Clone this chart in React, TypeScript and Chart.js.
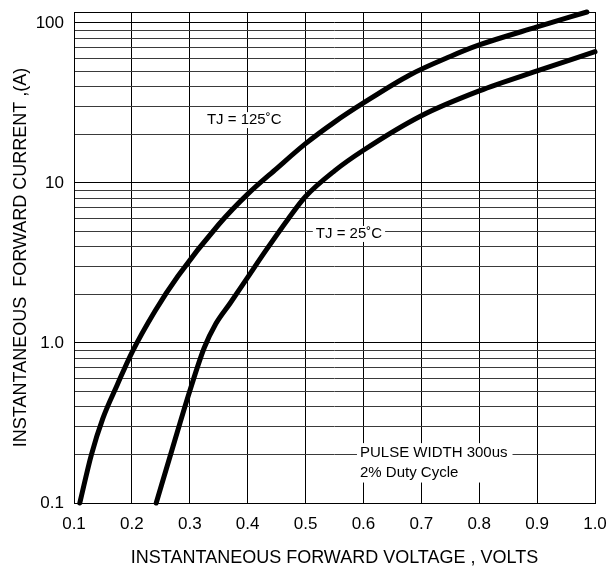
import React, { useEffect, useRef } from 'react';
import { Chart, registerables } from 'chart.js';

Chart.register(...registerables);

// Forward voltage (V) / forward current (A)
const vfTj125 = [0.11, 0.13, 0.15, 0.175, 0.2, 0.24, 0.28, 0.35, 0.4, 0.45, 0.5, 0.55, 0.6, 0.68, 0.75, 0.8, 0.9, 0.986];
const ifTj125 = [0.1, 0.2, 0.339, 0.55, 0.871, 1.585, 2.63, 5.5, 8.51, 12.3, 17.6, 24.0, 31.6, 47.3, 61.7, 72.8, 94.4, 117];

const vfTj25 = [0.242, 0.27, 0.3, 0.325, 0.345, 0.37, 0.4, 0.43, 0.47, 0.5, 0.55, 0.6, 0.7, 0.8, 0.9, 1.0];
const ifTj25 = [0.1, 0.219, 0.501, 0.933, 1.318, 1.778, 2.57, 3.72, 5.96, 8.22, 11.9, 16.0, 26.3, 37.6, 50.1, 66.1];

const xTicks = [0.1, 0.2, 0.3, 0.4, 0.5, 0.6, 0.7, 0.8, 0.9, 1.0];
const yTickValues = [0.1, 1, 10, 100];
const yTickLabels = ['0.1', '1.0', '10', '100'];
const yDecades = [0.1, 1, 10];
const yMin = 0.1;
const yMax = 117;

const xTitle = 'INSTANTANEOUS FORWARD VOLTAGE , VOLTS';
const yTitle = 'INSTANTANEOUS  FORWARD CURRENT ,(A)';

const FONT = '"Liberation Sans", Arial, Helvetica, sans-serif';

// Annotation texts anchored in data coordinates
const noteHot = { text: 'TJ = 125˚C', x: 0.394, y: 24.7 };
const noteCold = { text: 'TJ = 25˚C', x: 0.575, y: 4.8 };
const notePulse = { lines: ['PULSE WIDTH 300us', '2% Duty Cycle'], x: 0.594, y: [0.205, 0.155] };

function buildGrid(): number[] {
  const vals: number[] = [];
  for (const d of yDecades) {
    for (let k = 1; k <= 9; k++) vals.push(Math.round(d * k * 1000) / 1000);
  }
  vals.push(100);
  return vals;
}

const framePlugin = {
  id: 'frameAndNotes',
  beforeDatasetsDraw(chart: any) {
    const { ctx, chartArea: a, scales } = chart;
    const xs = scales.x;
    const ys = scales.y;
    ctx.save();
    ctx.strokeStyle = '#000';
    ctx.lineWidth = 1;
    ctx.strokeRect(Math.round(a.left) + 0.5, Math.round(a.top) + 0.5, Math.round(a.right - a.left), Math.round(a.bottom - a.top));

    ctx.font = '15px ' + FONT;
    ctx.textBaseline = 'middle';
    ctx.fillStyle = '#000';

    const centered = (n: { text: string; x: number; y: number }, pad: number) => {
      const px = xs.getPixelForValue(n.x);
      const py = ys.getPixelForValue(n.y);
      const w = ctx.measureText(n.text).width;
      ctx.fillStyle = '#fff';
      ctx.fillRect(px - w / 2 - pad, py - 8, w + pad * 2, 16);
      ctx.fillStyle = '#000';
      ctx.textAlign = 'center';
      ctx.fillText(n.text, px, py);
    };
    centered(noteHot, 6);
    centered(noteCold, 3);

    const lx = xs.getPixelForValue(notePulse.x);
    const ly1 = ys.getPixelForValue(notePulse.y[0]);
    const ly2 = ys.getPixelForValue(notePulse.y[1]);
    const mw = Math.max(...notePulse.lines.map((t) => ctx.measureText(t).width));
    ctx.fillStyle = '#fff';
    ctx.fillRect(lx - 3, ly1 - 10, mw + 8, ly2 - ly1 + 20);
    ctx.fillStyle = '#000';
    ctx.textAlign = 'left';
    ctx.fillText(notePulse.lines[0], lx, ly1);
    ctx.fillText(notePulse.lines[1], lx, ly2);
    ctx.restore();
  },
};

export default function App() {
  const ref = useRef<HTMLCanvasElement>(null);

  useEffect(() => {
    if (!ref.current) return;
    const grid = buildGrid();
    const chart = new Chart(ref.current, {
      type: 'line',
      data: {
        datasets: [
          {
            label: 'TJ = 125˚C',
            data: vfTj125.map((v, i) => ({ x: v, y: ifTj125[i] })),
            borderColor: '#000',
            borderWidth: 5,
            pointRadius: 0,
            cubicInterpolationMode: 'monotone',
            borderCapStyle: 'round',
            clip: 4,
          },
          {
            label: 'TJ = 25˚C',
            data: vfTj25.map((v, i) => ({ x: v, y: ifTj25[i] })),
            borderColor: '#000',
            borderWidth: 5,
            pointRadius: 0,
            cubicInterpolationMode: 'monotone',
            borderCapStyle: 'round',
            clip: 4,
          },
        ],
      },
      options: {
        animation: false,
        responsive: true,
        maintainAspectRatio: false,
        layout: { padding: { left: 0, top: 12, right: 20, bottom: 0 } },
        plugins: { legend: { display: false }, tooltip: { enabled: false } },
        scales: {
          x: {
            type: 'linear',
            min: 0.1,
            max: 1.0,
            afterBuildTicks: (s: any) => {
              s.ticks = xTicks.map((v) => ({ value: v }));
            },
            afterFit: (s: any) => {
              s.height = 68;
              s.paddingLeft = 0;
              s.paddingRight = 0;
            },
            grid: { color: '#000', lineWidth: 1, drawTicks: false },
            border: { display: false },
            ticks: {
              autoSkip: false,
              maxRotation: 0,
              padding: 11,
              color: '#000',
              font: { family: FONT, size: 17 },
              callback: (v: any) => Number(v).toFixed(1),
            },
            title: {
              display: true,
              text: xTitle,
              color: '#000',
              font: { family: FONT, size: 18 },
              padding: { top: 0, bottom: 2 },
            },
          },
          y: {
            type: 'logarithmic',
            min: yMin,
            max: yMax,
            afterBuildTicks: (s: any) => {
              s.ticks = grid.map((v) => ({ value: v }));
            },
            afterFit: (s: any) => {
              s.width = 74;
              s.paddingTop = 0;
              s.paddingBottom = 0;
            },
            grid: {
              drawTicks: false,
              lineWidth: 1,
              color: (c: any) => {
                const v = c.tick ? c.tick.value : 0;
                return yTickValues.some((t) => Math.abs(t - v) < 1e-9) ? '#000' : '#3a3a3a';
              },
            },
            border: { display: false },
            ticks: {
              autoSkip: false,
              padding: 10,
              color: '#000',
              font: { family: FONT, size: 17 },
              callback: (v: any) => {
                const i = yTickValues.findIndex((t) => Math.abs(t - Number(v)) < 1e-9);
                return i >= 0 ? yTickLabels[i] : '';
              },
            },
            title: {
              display: true,
              text: yTitle,
              color: '#000',
              font: { family: FONT, size: 18 },
              padding: { top: 10, bottom: 0 },
            },
          },
        },
      },
      plugins: [framePlugin],
    } as any);
    return () => chart.destroy();
  }, []);

  return (
    <div style={{ position: 'absolute', left: 0, top: 0, width: 615, height: 571, background: '#fff' }}>
      <canvas ref={ref} />
    </div>
  );
}
